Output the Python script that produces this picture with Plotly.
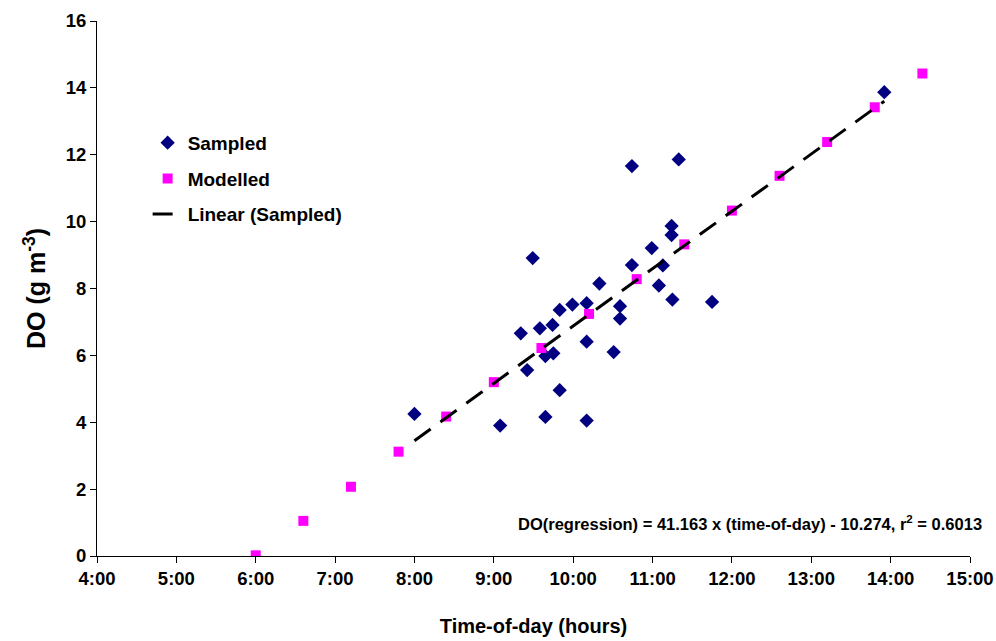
import plotly.graph_objects as go

# Sampled data (time in hours, DO in g m^-3)
sampled_hours = [10.74, 11.33, 9.49, 11.24, 11.24, 10.99, 10.74, 11.13, 10.33, 11.08,
                 11.25, 11.75, 9.83, 9.99, 10.17, 10.59, 10.59, 9.34, 9.58, 9.74,
                 10.17, 10.51, 9.65, 9.75, 9.42, 9.83, 8.00, 9.08, 9.65, 10.17, 13.92]
sampled_do = [11.66, 11.86, 8.91, 9.87, 9.60, 9.21, 8.70, 8.69, 8.15, 8.09,
              7.67, 7.60, 7.36, 7.52, 7.56, 7.47, 7.10, 6.66, 6.81, 6.91,
              6.41, 6.10, 5.98, 6.06, 5.56, 4.96, 4.25, 3.90, 4.16, 4.05, 13.87]

# Modelled data
modelled_hours = [6.0, 6.6, 7.2, 7.8, 8.4, 9.0, 9.6, 10.2, 10.8, 11.4, 12.0, 12.6, 13.2, 13.8, 14.4]
modelled_do = [0.02, 1.05, 2.07, 3.12, 4.17, 5.20, 6.22, 7.24, 8.28, 9.32, 10.33, 11.37, 12.38, 13.42, 14.43]

# Regression coefficients (time-of-day as fraction of a day)
slope = 41.163
intercept = -10.274
r2 = 0.6013

tick_hours = list(range(4, 16))
tick_labels = [f"{h}:00" for h in tick_hours]
y_ticks = list(range(0, 17, 2))

fit_x = [min(sampled_hours), max(sampled_hours)]
fit_y = [slope * (h / 24.0) + intercept for h in fit_x]

font_family = "Liberation Sans, Arial, sans-serif"

fig = go.Figure()
fig.add_trace(go.Scatter(
    x=sampled_hours, y=sampled_do, mode="markers", name="<b>Sampled</b>",
    legendgroup="a",
    marker=dict(symbol="diamond", size=11, color="#000080", line=dict(width=0)),
))
fig.add_trace(go.Scatter(
    x=modelled_hours, y=modelled_do, mode="markers", name="<b>Modelled</b>",
    legendgroup="b",
    marker=dict(symbol="square", size=10, color="#FF00FF", line=dict(width=0)),
))
fig.add_trace(go.Scatter(
    x=fit_x, y=fit_y, mode="lines", name="<b>Linear (Sampled)</b>",
    legendgroup="c",
    line=dict(color="black", width=3, dash="20px,12px"),
))

fig.add_annotation(
    x=1.0, xref="paper", xanchor="right", y=1.0, yref="y", yanchor="middle",
    text=f"<b>DO(regression) = {slope:.3f} x (time-of-day) - {abs(intercept):.3f}, r<sup>2</sup> = {r2:.4f}</b>",
    showarrow=False, font=dict(size=16.5, color="black", family=font_family),
    xshift=14,
)

fig.update_layout(
    width=996, height=641,
    margin=dict(l=97, r=26, t=21, b=85, autoexpand=False),
    paper_bgcolor="white", plot_bgcolor="white",
    font=dict(family=font_family, color="black"),
    showlegend=True,
    legend=dict(
        x=0.058, y=0.705, xanchor="left", yanchor="middle",
        font=dict(size=19, family=font_family),
        tracegroupgap=8, traceorder="grouped",
        bgcolor="rgba(0,0,0,0)",
    ),
    xaxis=dict(
        range=[4, 15], tickvals=tick_hours, ticktext=[f"<b>{t}</b>" for t in tick_labels],
        showline=True, linecolor="black", linewidth=1, ticks="outside", ticklen=6,
        tickcolor="black", showgrid=False, zeroline=False, automargin=False,
        tickfont=dict(size=18.5, family=font_family),
        title=dict(text="<b>Time-of-day (hours)</b>", font=dict(size=20, family=font_family), standoff=30),
    ),
    yaxis=dict(
        range=[0, 16], tickvals=y_ticks, ticktext=[f"<b>{v}</b>" for v in y_ticks],
        showline=True, linecolor="black", linewidth=1, ticks="outside", ticklen=6,
        tickcolor="black", showgrid=False, zeroline=False, automargin=False,
        tickfont=dict(size=18.5, family=font_family),
        title=dict(text="<b>DO (g m<sup>-3</sup>)</b>", font=dict(size=25, family=font_family), standoff=12),
    ),
)

fig.write_html("out.html")
